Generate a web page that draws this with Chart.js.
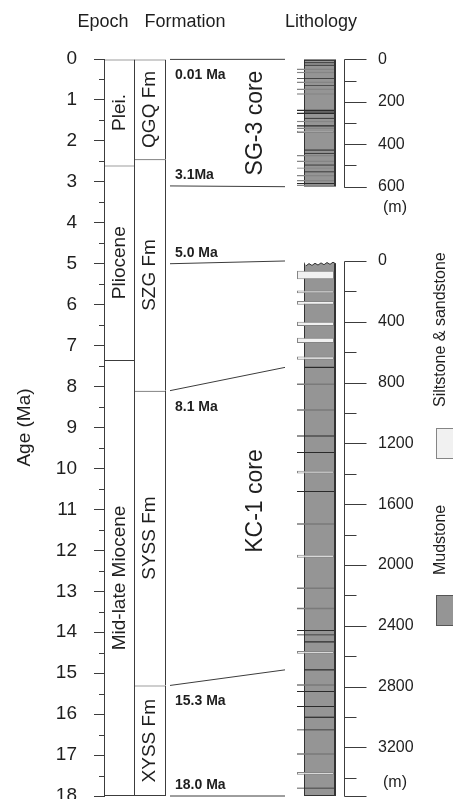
<!DOCTYPE html>
<html>
<head>
<meta charset="utf-8">
<script src="https://cdn.jsdelivr.net/npm/chart.js@4.4.1/dist/chart.umd.min.js"></script>
<style>
  html, body { margin: 0; padding: 0; background: #fff; }
  #wrap { width: 453px; height: 799px; position: relative; }
</style>
</head>
<body>
<div id="wrap"><canvas id="strat"></canvas></div>
<script>
// ---- values ----
var ageTicks = [0, 1, 2, 3, 4, 5, 6, 7, 8, 9, 10, 11, 12, 13, 14, 15, 16, 17, 18];

var epochNames = ['Plei.', 'Pliocene', 'Mid-late Miocene'];
var epochTop = [0, 2.6, 7.35];
var epochBase = [2.6, 7.35, 18];

var formationNames = ['QGQ Fm', 'SZG Fm', 'SYSS Fm', 'XYSS Fm'];
var formationTop = [0, 2.45, 8.1, 15.3];
var formationBase = [2.45, 8.1, 15.3, 18];

// age ties to the two cores (age in Ma -> core depth in m)
var tieAges = [0.01, 3.1, 5.0, 8.1, 15.3, 18.0];
var tieLabels = ['0.01 Ma', '3.1Ma', '5.0 Ma', '8.1 Ma', '15.3 Ma', '18.0 Ma'];
var tieCore = ['SG', 'SG', 'KC', 'KC', 'KC', 'KC'];
var tieDepth = [0, 600, 0, 700, 2690, 3520];

// SG-3 core (m)
var sgDepth = [0, 600];
var sgTicks = [0, 100, 200, 300, 400, 500, 600];
var sgTickLabels = [0, 200, 400, 600];
var sgSand = [[43, 50], [59, 66], [105, 112], [137, 144], [160, 167], [289, 296], [321, 328], [336, 347],
  [451, 458], [477, 484], [509, 516], [545, 552], [568, 575], [590, 597]];
var sgDark = [[4, 8], [14, 18], [26, 30], [122, 125], [246, 250], [276, 280], [425, 430], [441, 445], [496, 500], [528, 532]];
var sgDarkLong = [[88, 92], [238, 244], [252, 258], [310, 316], [582, 587]];

// KC-1 core (m)
var kcDepth = [0, 3520];
var kcTicks = [0, 200, 400, 600, 800, 1000, 1200, 1400, 1600, 1800, 2000, 2200, 2400, 2600, 2800, 3000, 3200, 3400];
var kcTickLabels = [0, 400, 800, 1200, 1600, 2000, 2400, 2800, 3200];
var kcSand = [[65, 120], [194, 212], [264, 288], [400, 428], [505, 540], [628, 650],
  [1380, 1398], [1932, 1952], [2566, 2584], [3362, 3380]];
var kcGrey = [[806, 816], [975, 985], [1726, 1736], [2148, 2158], [2282, 2292], [2785, 2795], [3238, 3248]];
var kcDark = [[696, 704], [2502, 2510], [2686, 2694], [2998, 3006]];
var kcDarkLong = [[1148, 1155], [1257, 1264], [1513, 1520], [2428, 2434], [2457, 2463], [2829, 2835], [2928, 2934], [3082, 3088], [3465, 3471]];

// ---- layout & style ----
var L = {
  axisX: 104,
  epochX: [104, 135],
  formationX: [134, 166],
  tieX: [170, 285],
  column: [304, 336],
  inner: [304, 334],
  wide: [297, 334],
  depthAxisX: 344,
  majorTick: 22,
  minorTick: 12,
  depthLabelX: 378,
  unitX: 395,
  sgUnitY: 208,
  kcUnitY: 783,
  coreNameX: 256,
  sgNameY: 123,
  kcNameY: 501,
  headerY: 22,
  legendX: 441
};
var INK = '#3c3c3c';
var TEXT = '#1e1e1e';
var MUD = '#959595';
var SAND = '#f1f1f1';
var SAND_EDGE = '#858585';
var GREY_BED = '#7a7a7a';
var DARK_BED = '#2a2a2a';
var FONT = '"Liberation Sans", Arial, sans-serif';

Chart.defaults.font.family = FONT;
Chart.defaults.color = TEXT;

function mid(r) { return (r[0] + r[1]) / 2; }
function span(r) { return r[1] - r[0]; }
function layers(xr, pairs) {
  return pairs.map(function (p) { return { x: mid(xr), y: p }; });
}
function columns(xr, tops, bases) {
  return tops.map(function (t, i) { return { x: mid(xr), y: [t, bases[i]] }; });
}
// stacked boxes share one line between them
function stackedBorder(c) {
  var last = c.dataIndex === c.dataset.data.length - 1;
  return { top: 1, left: 1, right: 1, bottom: last ? 1 : 0 };
}

function drawText(ctx, str, x, y, o) {
  ctx.save();
  ctx.translate(x, y);
  if (o.rotate) ctx.rotate(-Math.PI / 2);
  ctx.font = (o.weight || 'normal') + ' ' + o.size + 'px ' + FONT;
  ctx.fillStyle = TEXT;
  ctx.textAlign = o.align || 'center';
  ctx.textBaseline = 'middle';
  ctx.fillText(str, 0, 0);
  ctx.restore();
}
function seg(ctx, x0, y0, x1, y1) {
  ctx.beginPath(); ctx.moveTo(x0, y0); ctx.lineTo(x1, y1); ctx.stroke();
}

function drawDepthAxis(ctx, scale, ticks, labels, bottom, unitY) {
  var x = L.depthAxisX + 0.5;
  var top = Math.round(scale.getPixelForValue(0)) + 0.5;
  var bot = Math.round(scale.getPixelForValue(bottom)) + 0.5;
  ctx.strokeStyle = INK; ctx.lineWidth = 1;
  seg(ctx, x, top, x, bot);
  ticks.forEach(function (d) {
    var py = Math.round(scale.getPixelForValue(d)) + 0.5;
    var len = labels.indexOf(d) >= 0 ? L.majorTick : L.minorTick;
    seg(ctx, x, py, x + len, py);
  });
  seg(ctx, x, bot, x + L.majorTick, bot);
  labels.forEach(function (d) {
    drawText(ctx, String(d), L.depthLabelX, scale.getPixelForValue(d), { size: 16, align: 'left' });
  });
  drawText(ctx, '(m)', L.unitX, unitY, { size: 16 });
}

var strataPlugin = {
  id: 'strata',
  afterDatasetsDraw: function (chart) {
    var ctx = chart.ctx;
    var yAge = chart.scales.y;
    var depthScale = { SG: chart.scales.ySG, KC: chart.scales.yKC };
    ctx.save();

    // minor age ticks
    ctx.strokeStyle = INK; ctx.lineWidth = 1;
    for (var i = 0; i < ageTicks.length - 1; i++) {
      var a = (ageTicks[i] + ageTicks[i + 1]) / 2;
      var py = Math.round(yAge.getPixelForValue(a)) + 0.5;
      seg(ctx, L.axisX - 5, py, L.axisX, py);
    }

    // KC-1 wavy top
    var kc = depthScale.KC;
    var kTop = kc.getPixelForValue(0);
    ctx.fillStyle = '#fff';
    ctx.beginPath();
    ctx.moveTo(L.column[0] - 1, kTop - 1);
    ctx.lineTo(L.column[1] + 1, kTop - 1);
    var wave = [];
    for (var wx = L.column[1]; wx >= L.column[0]; wx -= 3) {
      wave.push([wx, kTop + 1.5 + (Math.round((wx - L.column[0]) / 3) % 2 ? 1.5 : -0.5) + (L.column[1] - wx) * 0.06]);
    }
    wave.forEach(function (p) { ctx.lineTo(p[0], p[1]); });
    ctx.closePath();
    ctx.fill();
    ctx.strokeStyle = '#333';
    ctx.beginPath();
    wave.forEach(function (p, k) { if (k) ctx.lineTo(p[0], p[1]); else ctx.moveTo(p[0], p[1]); });
    ctx.stroke();

    // tie lines
    ctx.strokeStyle = INK; ctx.lineWidth = 1;
    tieAges.forEach(function (age, k) {
      var y0 = yAge.getPixelForValue(age);
      var y1 = depthScale[tieCore[k]].getPixelForValue(tieDepth[k]);
      seg(ctx, L.tieX[0], y0, L.tieX[1], y1);
      var below = (k === 0 || k === 3 || k === 4);
      drawText(ctx, tieLabels[k], L.tieX[0] + 5, y0 + (below ? 16 : -11), { size: 14, weight: 'bold', align: 'left' });
    });

    // depth scales
    drawDepthAxis(ctx, depthScale.SG, sgTicks, sgTickLabels, sgDepth[1], L.sgUnitY);
    drawDepthAxis(ctx, kc, kcTicks, kcTickLabels, kcDepth[1], L.kcUnitY);

    // column names
    chart.getDatasetMeta(0).data.forEach(function (el, k) {
      drawText(ctx, epochNames[k], el.x, (el.y + el.base) / 2, { size: 19, rotate: true });
    });
    chart.getDatasetMeta(1).data.forEach(function (el, k) {
      drawText(ctx, formationNames[k], el.x, (el.y + el.base) / 2, { size: 19, rotate: true });
    });

    // core names
    drawText(ctx, 'SG-3 core', L.coreNameX, L.sgNameY, { size: 23, rotate: true });
    drawText(ctx, 'KC-1 core', L.coreNameX, L.kcNameY, { size: 23, rotate: true });

    // headers
    drawText(ctx, 'Epoch', 103, L.headerY, { size: 18 });
    drawText(ctx, 'Formation', 185, L.headerY, { size: 18 });
    drawText(ctx, 'Lithology', 321, L.headerY, { size: 18 });

    // legend
    ctx.lineWidth = 1;
    ctx.fillStyle = SAND; ctx.strokeStyle = SAND_EDGE;
    ctx.fillRect(436.5, 428.5, 24, 30); ctx.strokeRect(436.5, 428.5, 24, 30);
    ctx.fillStyle = MUD; ctx.strokeStyle = '#555';
    ctx.fillRect(436.5, 595.5, 24, 30); ctx.strokeRect(436.5, 595.5, 24, 30);
    drawText(ctx, 'Siltstone & sandstone', L.legendX, 407, { size: 16, rotate: true, align: 'left' });
    drawText(ctx, 'Mudstone', L.legendX, 575, { size: 16, rotate: true, align: 'left' });

    ctx.restore();
  }
};

var chartContainer = document.getElementById('strat');

var datasets = [
  { label: 'Epoch', data: columns(L.epochX, epochTop, epochBase), yAxisID: 'y',
    barThickness: span(L.epochX), backgroundColor: '#fff', borderColor: INK, borderWidth: stackedBorder, order: 9 },
  { label: 'Formation', data: columns(L.formationX, formationTop, formationBase), yAxisID: 'y',
    barThickness: span(L.formationX), backgroundColor: '#fff', borderColor: INK, borderWidth: stackedBorder, order: 9 },

  { label: 'SG-3 mudstone', data: layers(L.column, [sgDepth]), yAxisID: 'ySG',
    barThickness: span(L.column), backgroundColor: MUD, borderColor: '#333',
    borderWidth: { top: 1, left: 1, bottom: 1, right: 2 }, order: 8 },
  { label: 'SG-3 siltstone & sandstone', data: layers(L.wide, sgSand), yAxisID: 'ySG',
    barThickness: span(L.wide), backgroundColor: SAND, borderColor: SAND_EDGE, borderWidth: 1, order: 3 },
  { label: 'SG-3 dark beds', data: layers(L.inner, sgDark), yAxisID: 'ySG',
    barThickness: span(L.inner), backgroundColor: DARK_BED, borderWidth: 0, order: 2 },
  { label: 'SG-3 dark beds (long)', data: layers(L.wide, sgDarkLong), yAxisID: 'ySG',
    barThickness: span(L.wide), backgroundColor: DARK_BED, borderWidth: 0, order: 2 },

  { label: 'KC-1 mudstone', data: layers(L.column, [kcDepth]), yAxisID: 'yKC',
    barThickness: span(L.column), backgroundColor: MUD, borderColor: '#333',
    borderWidth: { top: 0, left: 1, bottom: 1, right: 2 }, order: 8 },
  { label: 'KC-1 siltstone & sandstone', data: layers(L.wide, kcSand), yAxisID: 'yKC',
    barThickness: span(L.wide), backgroundColor: SAND, borderColor: SAND_EDGE, borderWidth: 1, order: 3 },
  { label: 'KC-1 grey beds', data: layers(L.wide, kcGrey), yAxisID: 'yKC',
    barThickness: span(L.wide), backgroundColor: GREY_BED, borderWidth: 0, order: 3 },
  { label: 'KC-1 dark beds', data: layers(L.inner, kcDark), yAxisID: 'yKC',
    barThickness: span(L.inner), backgroundColor: DARK_BED, borderWidth: 0, order: 2 },
  { label: 'KC-1 dark beds (long)', data: layers(L.wide, kcDarkLong), yAxisID: 'yKC',
    barThickness: span(L.wide), backgroundColor: DARK_BED, borderWidth: 0, order: 2 }
];

var chartOptions = {
  responsive: true,
  maintainAspectRatio: false,
  animation: false,
  events: [],
  layout: { padding: { top: 59, bottom: 3, left: 0, right: 0 } },
  datasets: { bar: { grouped: false, borderSkipped: false, inflateAmount: 0 } },
  plugins: { legend: { display: false }, tooltip: { enabled: false } },
  scales: {
    x: { type: 'linear', display: false, min: L.axisX, max: 453, offset: false },
    y: {
      type: 'linear', position: 'left', reverse: true, min: 0, max: 18,
      afterBuildTicks: function (s) { s.ticks = ageTicks.map(function (v) { return { value: v }; }); },
      afterFit: function (s) { s.width = L.axisX; s.paddingTop = 0; s.paddingBottom = 0; },
      ticks: { font: { size: 19 }, padding: 17, color: TEXT, autoSkip: false },
      grid: { drawOnChartArea: false, tickLength: 10, color: INK },
      border: { display: true, color: INK },
      title: { display: true, text: 'Age (Ma)', font: { size: 19 }, color: TEXT, padding: { top: 13, bottom: 0 } }
    },
    // depth scales; anchored so SG-3 0-600 m and KC-1 0-3520 m sit at the figure's positions
    ySG: { type: 'linear', display: false, reverse: true, min: -1.5, max: 3470 },
    yKC: { type: 'linear', display: false, reverse: true, min: -1329, max: 3520 }
  }
};

var strataChart = new Chart(chartContainer, {
  type: 'bar',
  data: { datasets: datasets },
  options: chartOptions,
  plugins: [strataPlugin]
});
</script>
</body>
</html>
